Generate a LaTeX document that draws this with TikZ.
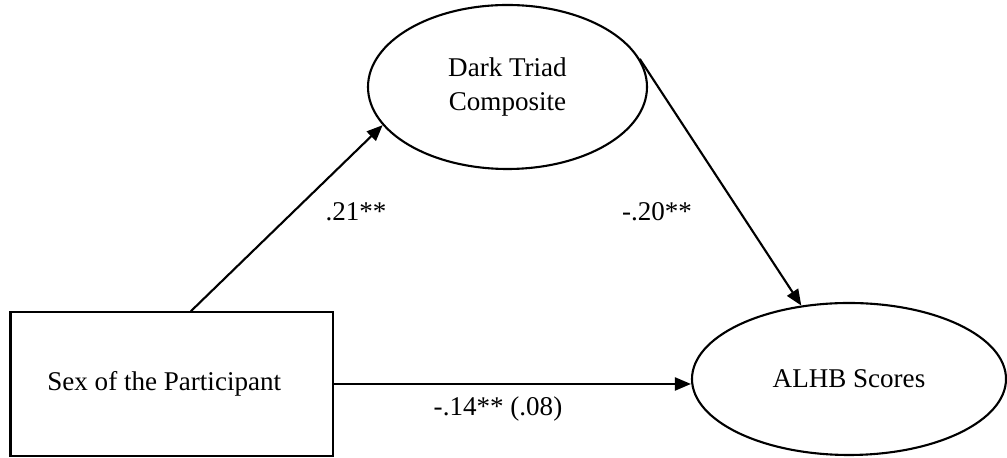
\documentclass[tikz,border=0pt]{standalone}
\usepackage{fontspec}
\setmainfont{Liberation Serif}
\usetikzlibrary{arrows.meta, shapes.geometric, calc}

\begin{document}
\begin{tikzpicture}[
	box/.style={draw, line width=1.2pt, minimum width=6.45cm, minimum height=2.87cm, inner sep=0pt},
	oval/.style={draw, line width=1.2pt, ellipse, inner sep=0pt, align=center},
	link/.style={line width=1.2pt, -{Triangle[length=0.32cm, width=0.26cm]}}
]

\def\width{20.14}
\def\height{9.16}

\fontsize{15.4}{18.8}\selectfont
\path [use as bounding box] (0,0) rectangle (\width,\height);

% VARIABLES
\node [box] (sex) at (3.435,1.48) {Sex of the Participant\hspace*{0.3cm}};
\node [oval, minimum width=5.58cm, minimum height=3.28cm] (dt) at (10.15,7.42) {Dark Triad\\Composite};
\node [oval, minimum width=6.28cm, minimum height=3.04cm] (alhb) at (16.98,1.58) {ALHB Scores};

% PATHS
\draw [link] ($(sex.north west)!0.559!(sex.north east)$) -- (dt.197.5);
\draw [link] (dt.12.7) -- (alhb.123.8);
\draw [link] (sex.east) -- (sex.east -| alhb.west);

% COEFFICIENTS
\node (a) at (7.12,4.92) {.21**};
\node (b) at (13.14,4.92) {-.20**};
\node (c) at (9.96,0.98) {-.14** (.08)};

\end{tikzpicture}
\end{document}
